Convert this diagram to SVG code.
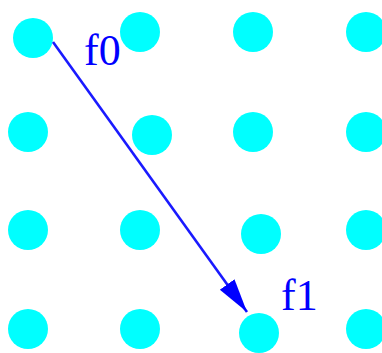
<svg xmlns="http://www.w3.org/2000/svg" width="382" height="353" viewBox="0 0 382 353">
<style>
.dot{fill:#00ffff}
.lbl{font-family:"Liberation Serif","Times New Roman",serif;font-size:44px;fill:#0000ff}
.edge{stroke:#1a1aff;stroke-width:2.6;fill:none}
</style>
<defs>
<marker id="ah" markerUnits="userSpaceOnUse" markerWidth="36" markerHeight="20" refX="34" refY="9" orient="auto">
<path d="M0,0 L34,9 L0,18 Z" fill="#0000ff"/>
</marker>
</defs>
<rect width="382" height="353" fill="#ffffff"/>
<g id="dots">
<g id="n00"><circle class="dot" cx="33" cy="38" r="20"/></g>
<g id="n01"><circle class="dot" cx="140" cy="32" r="20"/></g>
<g id="n02"><circle class="dot" cx="253" cy="32" r="20"/></g>
<g id="n03"><circle class="dot" cx="366" cy="32" r="20"/></g>
<g id="n10"><circle class="dot" cx="28" cy="132" r="20"/></g>
<g id="n11"><circle class="dot" cx="152" cy="135" r="20"/></g>
<g id="n12"><circle class="dot" cx="253" cy="132" r="20"/></g>
<g id="n13"><circle class="dot" cx="366" cy="132" r="20"/></g>
<g id="n20"><circle class="dot" cx="28" cy="230" r="20"/></g>
<g id="n21"><circle class="dot" cx="140" cy="230" r="20"/></g>
<g id="n22"><circle class="dot" cx="261" cy="234" r="20"/></g>
<g id="n23"><circle class="dot" cx="366" cy="230" r="20"/></g>
<g id="n30"><circle class="dot" cx="28" cy="329" r="20"/></g>
<g id="n31"><circle class="dot" cx="140" cy="329" r="20"/></g>
<g id="n32"><circle class="dot" cx="259" cy="333" r="20"/></g>
<g id="n33"><circle class="dot" cx="366" cy="329" r="20"/></g>
</g>
<g id="connectors">
<line class="edge" x1="53" y1="42" x2="247" y2="312" marker-end="url(#ah)"/>
</g>
<g id="labels">
<text class="lbl" x="84" y="65">f0</text>
<text class="lbl" x="281" y="310">f1</text>
</g>
</svg>
